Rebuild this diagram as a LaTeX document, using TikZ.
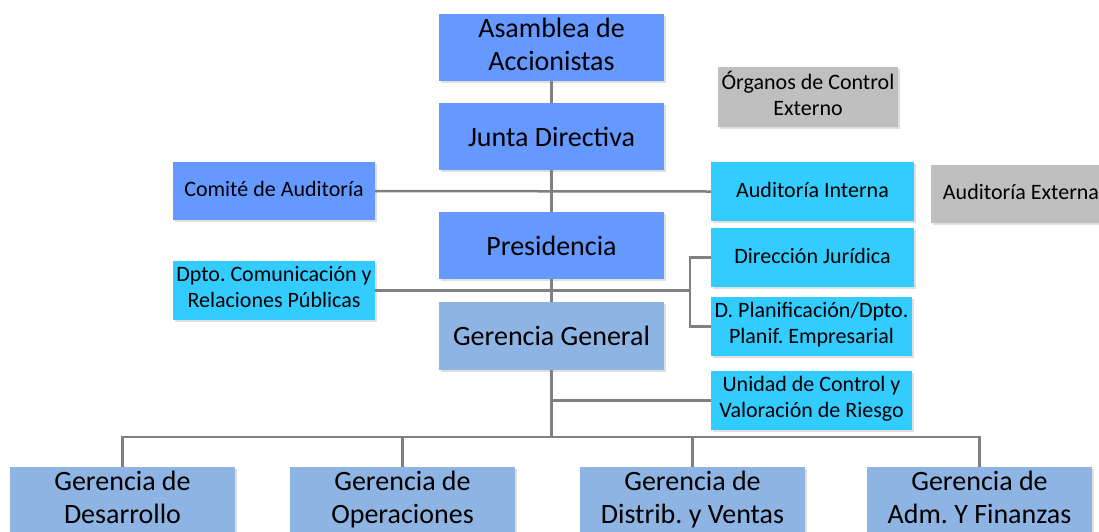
\documentclass[tikz,border=0pt]{standalone}
\usepackage{fontspec}
\setmainfont{Carlito}
\usepackage{tikz}
\usetikzlibrary{shadows, positioning}
\definecolor{azul}{HTML}{6699FF}
\definecolor{celeste}{HTML}{33CCFF}
\definecolor{gerencia}{HTML}{8EB4E3}
\definecolor{gris}{HTML}{BFBFBF}
\definecolor{linea}{HTML}{808080}
\frenchspacing
\newcommand{\grstrut}{\rule[-7pt]{0pt}{33pt}}
\newcommand{\chstrut}{\rule[-7.5pt]{0pt}{26pt}}

\begin{document}
\begin{tikzpicture}[x=1pt, y=-1pt,
    box/.style={inner sep=0pt, align=center, drop shadow={shadow xshift=1.5pt, shadow yshift=-2pt, opacity=0.25}},
    bigbox/.style={box, minimum width=225pt, minimum height=67pt, font=\fontsize{28}{33}\selectfont,
        execute at begin node=\grstrut, execute at end node=\grstrut},
    smallbox/.style={box, minimum width=202pt, minimum height=59pt, font=\fontsize{22}{26}\selectfont,
        execute at begin node=\chstrut, execute at end node=\chstrut},
    conn/.style={draw=linea, line width=2.5pt}]
    \useasboundingbox (0,0) rectangle (1099,531);

    % eje central
    \node[bigbox, fill=azul] (asamblea) at (551.5,47.5) {Asamblea de\\Accionistas};
    \node[bigbox, fill=azul] (junta) at (551.5,136.5) {Junta Directiva};
    \node[bigbox, fill=azul] (presid) at (551.5,245.5) {Presidencia};
    \node[bigbox, fill=gerencia, minimum height=68pt] (gergen) at (551.5,336) {Gerencia General};

    % izquierda
    \node[smallbox, fill=azul, minimum height=58pt] (comite) at (274,191) {Comité de Auditoría};
    \node[smallbox, fill=celeste] (dpto) at (274,290.5) {Dpto. Comunicación y\\Relaciones Públicas};

    % derecha
    \node[smallbox, fill=gris, minimum width=180pt, minimum height=60pt] (organos) at (808,97) {Órganos de Control\\Externo};
    \node[smallbox, fill=celeste, minimum width=203pt] (audint) at (812.5,191.5) {Auditoría Interna};
    \node[smallbox, fill=gris, minimum width=180pt, minimum height=58pt] (audext) at (1021,194) {Auditoría Externa};
    \node[smallbox, fill=celeste, minimum width=203pt] (dirjur) at (812.5,257.5) {Dirección Jurídica};
    \node[smallbox, fill=celeste, minimum width=201pt] (planif) at (811.5,326.5) {D. Planificación/Dpto.\\Planif. Empresarial};
    \node[smallbox, fill=celeste, minimum width=201pt] (unidad) at (811.5,400.5) {Unidad de Control y\\Valoración de Riesgo};

    % gerencias
    \node[bigbox, fill=gerencia] (desarrollo) at (122.5,500.5) {Gerencia de\\Desarrollo};
    \node[bigbox, fill=gerencia] (operaciones) at (402.5,500.5) {Gerencia de\\Operaciones};
    \node[bigbox, fill=gerencia] (distrib) at (692.5,500.5) {Gerencia de\\Distrib. y Ventas};
    \node[bigbox, fill=gerencia] (adm) at (979.5,500.5) {Gerencia de\\Adm. Y Finanzas};

    \coordinate (bus) at (551.5,437);
    \coordinate (jur) at (690,290.5);

    % conexiones
    \draw[conn] (asamblea) -- (junta);
    \draw[conn] (junta) -- (presid);
    \draw[conn] (presid) -- (gergen);
    \draw[conn] (gergen) -- (bus);
    \draw[conn] (comite.east) -- (audint.west);
    \draw[conn] (dpto.east) -- (jur);
    \draw[conn] (dirjur.west) -| (jur) |- (planif.west);
    \draw[conn] (bus |- unidad.west) -- (unidad.west);
    \draw[conn] (desarrollo.north) |- (adm.north |- bus) -- (adm.north);
    \draw[conn] (operaciones.north) -- (operaciones.north |- bus);
    \draw[conn] (distrib.north) -- (distrib.north |- bus);
\end{tikzpicture}
\end{document}
